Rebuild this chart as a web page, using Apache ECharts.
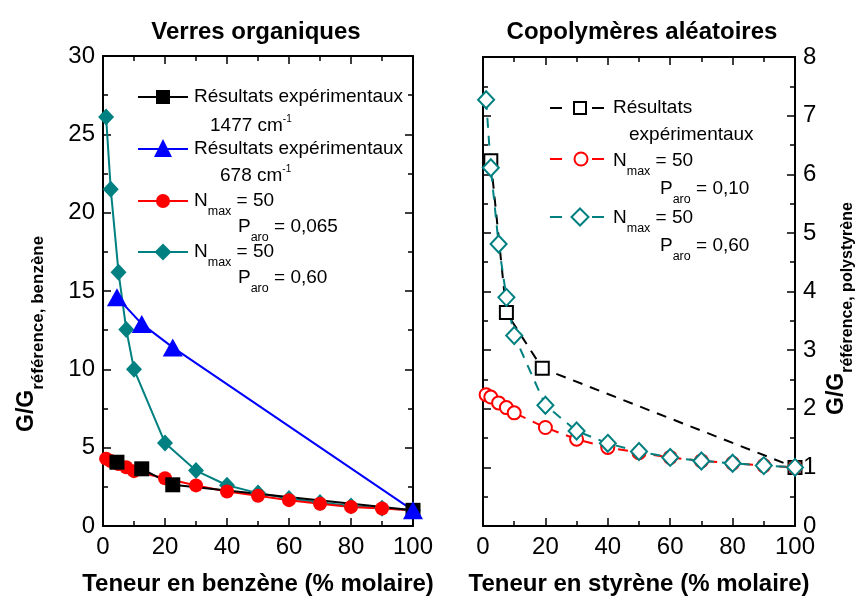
<!DOCTYPE html>
<html><head><meta charset="utf-8">
<script src="https://cdn.jsdelivr.net/npm/echarts@6/dist/echarts.min.js"></script>
<style>html,body{margin:0;padding:0;background:#fff}#c{width:857px;height:601px}</style>
</head><body><div id="c"></div>
<script>
// ---- tick values ----
const xTicks = [0, 20, 40, 60, 80, 100];
const leftYTicks = [0, 5, 10, 15, 20, 25, 30];
const rightYTicks = [0, 1, 2, 3, 4, 5, 6, 7, 8];

// ---- left panel: Verres organiques (x = teneur en benzène, y = G/G ref benzène) ----
const benzExp1477 = [[4.5, 4.07], [12.5, 3.65], [22.5, 2.63], [100, 1.0]];
const benzExp678 = [[4.5, 14.6], [12.5, 12.9], [22.5, 11.4], [100, 1.0]];
const benzSimP0065 = [[1, 4.3], [2.5, 4.15], [5, 3.95], [7.5, 3.75], [10, 3.5], [20, 3.05], [30, 2.59], [40, 2.2], [50, 1.93], [60, 1.65], [70, 1.42], [80, 1.22], [90, 1.12], [100, 1.0]];
const benzSimP060 = [[1, 26.1], [2.5, 21.5], [5, 16.2], [7.5, 12.55], [10, 10.0], [20, 5.3], [30, 3.54], [40, 2.6], [50, 2.1], [60, 1.75], [70, 1.5], [80, 1.28], [90, 1.14], [100, 1.0]];

// ---- right panel: Copolymères aléatoires (x = teneur en styrène, y = G/G ref polystyrène) ----
const styExp = [[2.5, 6.23], [7.5, 3.64], [19, 2.69], [100, 1.0]];
const stySimP010 = [[1, 2.24], [2.5, 2.2], [5, 2.1], [7.5, 2.02], [10, 1.93], [20, 1.68], [30, 1.48], [40, 1.34], [50, 1.25], [60, 1.17], [70, 1.11], [80, 1.07], [90, 1.03], [100, 1.0]];
const stySimP060 = [[1, 7.27], [2.5, 6.11], [5, 4.81], [7.5, 3.9], [10, 3.25], [20, 2.06], [30, 1.62], [40, 1.41], [50, 1.27], [60, 1.17], [70, 1.11], [80, 1.07], [90, 1.03], [100, 1.0]];

const FF = '"Liberation Sans", Arial, Helvetica, sans-serif';
const TEAL = '#008080', RED = '#ff0000', BLUE = '#0000ff', BLACK = '#000000';

const cv = document.createElement('canvas').getContext('2d');
function tw(t, size, bold) { cv.font = (bold ? 'bold ' : '') + size + 'px ' + FF; return cv.measureText(t).width; }
function runs(x, y, parts) {
  const els = []; let cx = x;
  for (const p of parts) {
    const [t, size, dy, bold] = p;
    els.push({ type: 'text', x: cx, y: y + (dy || 0), silent: true,
      style: { text: t, fontSize: size, fontFamily: FF, fontWeight: bold ? 'bold' : 'normal', fill: '#000',
        align: 'left', verticalAlign: 'middle', textAlign: 'left', textVerticalAlign: 'middle' } });
    cx += tw(t, size, bold);
  }
  return els;
}
function sym(kind, cx, cy, s, fill, stroke) {
  const st = { fill: fill, stroke: stroke || null, lineWidth: stroke ? 2 : 0 };
  if (kind === 'rect') return { type: 'rect', shape: { x: cx - s / 2, y: cy - s / 2, width: s, height: s }, style: st };
  if (kind === 'circle') return { type: 'circle', shape: { cx: cx, cy: cy, r: s / 2 }, style: st };
  if (kind === 'triangle') return { type: 'polygon', shape: { points: [[cx, cy - s / 2], [cx + s / 2, cy + s / 2], [cx - s / 2, cy + s / 2]] }, style: st };
  return { type: 'polygon', shape: { points: [[cx, cy - s / 2], [cx + s / 2, cy], [cx, cy + s / 2], [cx - s / 2, cy]] }, style: st };
}
function ln(x1, y1, x2, y2, c) { return { type: 'line', shape: { x1, y1, x2, y2 }, style: { stroke: c, lineWidth: 2 } }; }

const LS = 19;   // legend font size
const SS = 12.5; // legend subscript size
const graphics = [];
// left legend
graphics.push(ln(138, 97, 188, 97, BLACK), sym('rect', 163, 97, 14, BLACK));
graphics.push(...runs(194, 97, [['Résultats expérimentaux', LS]]));
graphics.push(...runs(210, 126, [['1477 cm', LS], ['-1', 10, -7]]));
graphics.push(ln(138, 149, 188, 149, BLUE), sym('triangle', 163, 148, 18, BLUE));
graphics.push(...runs(194, 149, [['Résultats expérimentaux', LS]]));
graphics.push(...runs(220, 176, [['678 cm', LS], ['-1', 10, -7]]));
graphics.push(ln(138, 201, 188, 201, RED), sym('circle', 163, 201, 14, RED));
graphics.push(...runs(194, 201, [['N', LS], ['max', SS, 11], [' = 50', LS]]));
graphics.push(...runs(238, 227, [['P', LS], ['aro', SS, 11], [' = 0,065', LS]]));
graphics.push(ln(138, 252, 188, 252, TEAL), sym('diamond', 163, 252, 17, TEAL));
graphics.push(...runs(194, 252, [['N', LS], ['max', SS, 11], [' = 50', LS]]));
graphics.push(...runs(238, 278, [['P', LS], ['aro', SS, 11], [' = 0,60', LS]]));
// right legend
graphics.push(ln(550, 108, 562, 108, BLACK), ln(592, 108, 604, 108, BLACK), sym('rect', 580, 108, 12, '#fff', BLACK));
graphics.push(...runs(613, 108, [['Résultats', LS]]));
graphics.push(...runs(629, 135, [['expérimentaux', LS]]));
graphics.push(ln(550, 159, 562, 159, RED), ln(592, 159, 604, 159, RED), sym('circle', 581, 159, 13, '#fff', RED));
graphics.push(...runs(613, 161, [['N', LS], ['max', SS, 11], [' = 50', LS]]));
graphics.push(...runs(660, 189, [['P', LS], ['aro', SS, 11], [' = 0,10', LS]]));
graphics.push(ln(550, 217, 562, 217, TEAL), ln(592, 217, 604, 217, TEAL), sym('diamond', 580, 217, 17, '#fff', TEAL));
graphics.push(...runs(613, 218, [['N', LS], ['max', SS, 11], [' = 50', LS]]));
graphics.push(...runs(660, 246, [['P', LS], ['aro', SS, 11], [' = 0,60', LS]]));
// rotated y-axis names
graphics.push({ type: 'group', x: 27, y: 432, rotation: Math.PI / 2,
  children: runs(0, 0, [['G/G', 23, 0, true], ['référence, benzène', 17, 11, true]]) });
graphics.push({ type: 'group', x: 837, y: 415, rotation: Math.PI / 2,
  children: runs(0, 0, [['G/G', 23, 0, true], ['référence, polystyrène', 16, 11, true]]) });

const tickLab = { fontSize: 24, color: '#000', fontFamily: FF };
const axLine = { show: true, onZero: false, lineStyle: { color: '#000', width: 2 } };
function xAx(grid, pos, name) {
  const a = { type: 'value', gridIndex: grid, position: pos, min: xTicks[0], max: xTicks[xTicks.length - 1], interval: xTicks[1] - xTicks[0],
    axisLine: axLine, axisTick: { show: true, inside: true, length: 8, lineStyle: { color: '#000', width: 1.5 } },
    minorTick: { show: true, splitNumber: 2, length: 5, lineStyle: { color: '#000', width: 1.5 } },
    splitLine: { show: false }, minorSplitLine: { show: false },
    axisLabel: pos === 'bottom' ? Object.assign({ show: true, margin: 9 }, tickLab) : { show: false } };
  if (name) Object.assign(a, { name: name, nameLocation: 'middle', nameGap: 46,
    nameTextStyle: { fontSize: 24, fontWeight: 'bold', fontFamily: FF, color: '#000' } });
  return a;
}
function yAx(grid, pos, ticks, minorSplit, labels) {
  return { type: 'value', gridIndex: grid, position: pos, min: ticks[0], max: ticks[ticks.length - 1], interval: ticks[1] - ticks[0],
    axisLine: axLine, axisTick: { show: true, inside: true, length: 8, lineStyle: { color: '#000', width: 1.5 } },
    minorTick: { show: true, splitNumber: minorSplit, length: 5, lineStyle: { color: '#000', width: 1.5 } },
    splitLine: { show: false }, minorSplitLine: { show: false },
    axisLabel: labels ? Object.assign({ show: true, margin: 8 }, tickLab) : { show: false } };
}

function solid(name, data, color, symbol, size, xi, yi) {
  return { type: 'line', name: name, xAxisIndex: xi, yAxisIndex: yi, data: data, symbol: symbol, symbolSize: size, showAllSymbol: true,
    lineStyle: { color: color, width: 2 }, itemStyle: { color: color }, clip: true };
}
function dashed(name, data, color, symbol, size, xi, yi) {
  return { type: 'line', name: name, xAxisIndex: xi, yAxisIndex: yi, data: data, symbol: symbol, symbolSize: size, showAllSymbol: true,
    lineStyle: { color: color, width: 2, type: [10, 8] }, itemStyle: { color: '#fff', borderColor: color, borderWidth: 2 }, clip: true };
}

const chart = echarts.init(document.getElementById('c'), null, { renderer: 'canvas' });
chart.setOption({
  animation: false,
  backgroundColor: '#fff',
  title: [
    { text: 'Verres organiques', left: 251, top: 15, textAlign: 'center', textStyle: { fontSize: 24, fontWeight: 'bold', fontFamily: FF, color: '#000' } },
    { text: 'Copolymères aléatoires', left: 637, top: 15, textAlign: 'center', textStyle: { fontSize: 24, fontWeight: 'bold', fontFamily: FF, color: '#000' } }
  ],
  grid: [
    { left: 103, top: 56, width: 310, height: 472 },
    { left: 483, top: 57, width: 312, height: 472 }
  ],
  xAxis: [xAx(0, 'bottom', 'Teneur en benzène (% molaire)'), xAx(0, 'top'), xAx(1, 'bottom', 'Teneur en styrène (% molaire)'), xAx(1, 'top')],
  yAxis: [yAx(0, 'left', leftYTicks, 2, true), yAx(0, 'right', leftYTicks, 2, false), yAx(1, 'left', rightYTicks, 2, false), yAx(1, 'right', rightYTicks, 2, true)],
  series: [
    solid('N_max = 50, P_aro = 0,60', benzSimP060, TEAL, 'diamond', [16, 17], 0, 0),
    solid('N_max = 50, P_aro = 0,065', benzSimP0065, RED, 'circle', 14, 0, 0),
    solid('Résultats expérimentaux 1477 cm-1', benzExp1477, BLACK, 'rect', 15, 0, 0),
    solid('Résultats expérimentaux 678 cm-1', benzExp678, BLUE, 'triangle', [20, 18], 0, 0),
    dashed('Résultats expérimentaux', styExp, BLACK, 'rect', 13, 2, 3),
    dashed('N_max = 50, P_aro = 0,10', stySimP010, RED, 'circle', 13, 2, 3),
    dashed('N_max = 50, P_aro = 0,60', stySimP060, TEAL, 'diamond', [16, 17], 2, 3)
  ],
  graphic: graphics
});
</script></body></html>
